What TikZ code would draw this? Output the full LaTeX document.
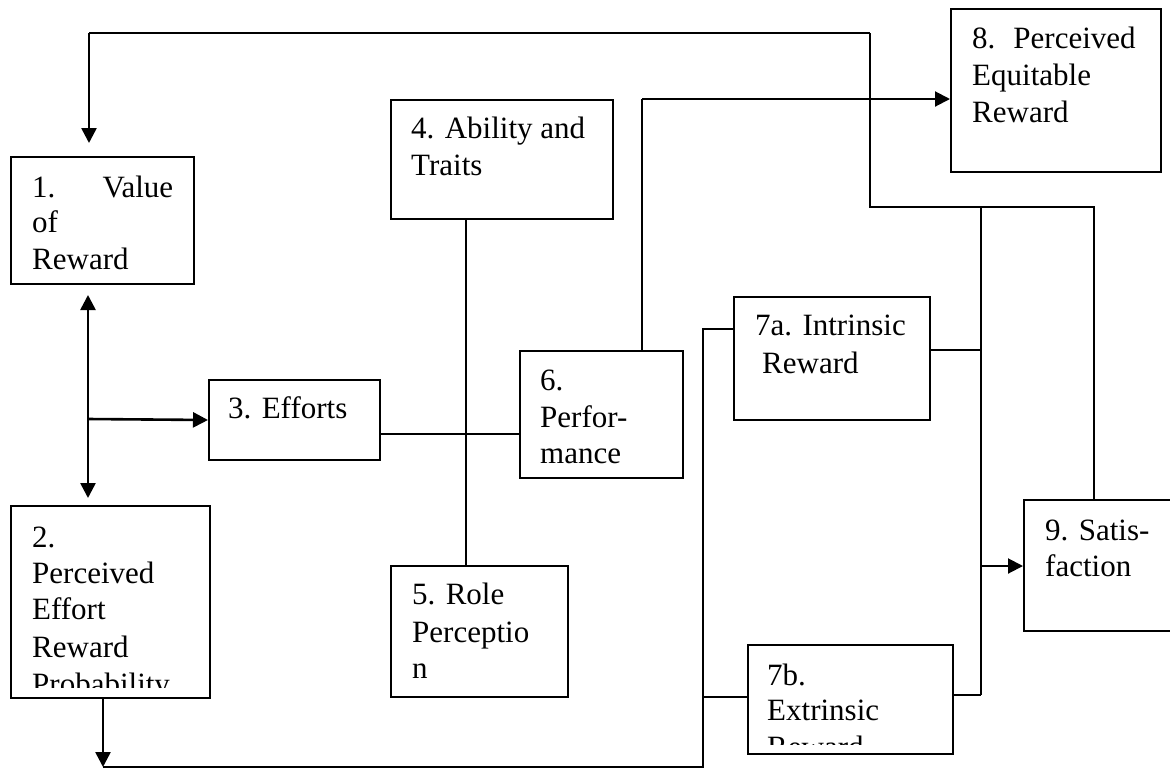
\documentclass[tikz,border=0pt]{standalone}
\usepackage{fontspec}
\setmainfont{Liberation Serif}
\usetikzlibrary{arrows.meta}
\begin{document}
\begin{tikzpicture}[x=1pt,y=-1pt,
  boxnode/.style={draw=black,line width=2pt,inner sep=0pt,anchor=north west,rectangle,fill=white},
  lbl/.style={anchor=base west,inner sep=0pt,font=\fontsize{31}{36.5}\selectfont},
  thinline/.style={line width=1.6pt},
  medline/.style={line width=2pt},
  arrowline/.style={line width=2.6pt},
  tip/.style={-{Triangle[length=15pt,width=15pt]}},
  dtip/.style={{Triangle[length=15pt,width=15pt]}-{Triangle[length=15pt,width=15pt]}}
]
\useasboundingbox (0,0) rectangle (1170,769);
\clip (0,0) rectangle (1170,769);
\fill[white] (0,0) rectangle (1170,769);

% boxes
\node[boxnode,minimum width=183pt,minimum height=127pt] (b1) at (10,156) {};
\node[boxnode,minimum width=199pt,minimum height=192pt] (b2) at (10,505) {};
\node[boxnode,minimum width=171pt,minimum height=80pt] (b3) at (208,379) {};
\node[boxnode,minimum width=222pt,minimum height=119pt] (b4) at (390,99) {};
\node[boxnode,minimum width=177pt,minimum height=131pt] (b5) at (390,565) {};
\node[boxnode,minimum width=163pt,minimum height=127pt] (b6) at (519,350) {};
\node[boxnode,minimum width=196pt,minimum height=123pt] (b7a) at (733,296) {};
\node[boxnode,minimum width=205pt,minimum height=109pt] (b7b) at (747,644) {};
\node[boxnode,minimum width=210pt,minimum height=163pt] (b8) at (950,8) {};
\node[boxnode,minimum width=160pt,minimum height=131pt] (b9) at (1023,499) {};

% texts
\node[lbl] (t1a) at (32,197) {\makebox[141pt][l]{1.\hfill Value}};
\node[lbl] (t1b) at (32,232) {of};
\node[lbl] (t1c) at (32,269) {Reward};
\node[lbl] (t2a) at (32,547) {2.};
\node[lbl] (t2b) at (32,583) {Perceived};
\node[lbl] (t2c) at (32,619) {Effort};
\node[lbl] (t2d) at (32,657) {Reward};
\begin{scope}
  \clip (10,505) rectangle (209,687);
  \node[lbl] (t2e) at (32,694) {Probability};
\end{scope}
\node[lbl] (t3a) at (228,418) {3. Efforts};
\node[lbl] (t4a) at (411,138) {4. Ability and};
\node[lbl] (t4b) at (411,175) {Traits};
\node[lbl] (t5a) at (412,604) {5. Role};
\node[lbl] (t5b) at (412,642) {Perceptio};
\node[lbl] (t5c) at (412,678) {n};
\node[lbl] (t6a) at (540,390) {6.};
\node[lbl] (t6b) at (540,427) {Perfor-};
\node[lbl] (t6c) at (540,463) {mance};
\node[lbl] (t7a) at (755,335) {7a. Intrinsic};
\node[lbl] (t7b) at (762,373) {Reward};
\node[lbl] (t7c) at (767,685) {7b.};
\node[lbl] (t7d) at (767,720) {Extrinsic};
\begin{scope}
  \clip (747,644) rectangle (952,744);
  \node[lbl] (t7e) at (767,757) {Reward};
\end{scope}
\node[lbl] (t8a) at (972,48) {8.\hspace{18pt}Perceived};
\node[lbl] (t8b) at (972,85) {Equitable};
\node[lbl] (t8c) at (972,122) {Reward};
\node[lbl] (t9a) at (1045,540) {9. Satis-};
\node[lbl] (t9b) at (1045,576) {faction};

% junction coordinates
\coordinate (j1) at (1094,207);
\coordinate (j2) at (870,207);
\coordinate (j3) at (870,33);
\coordinate (j4) at (89,33);
\coordinate (v1) at (88,419);
\coordinate (h1) at (0,434);
\coordinate (v2) at (466,0);
\coordinate (v3) at (642,99);
\coordinate (v4) at (103,767);
\coordinate (c1) at (703,767);
\coordinate (c2) at (703,329);
\coordinate (c3) at (703,697);
\coordinate (c4) at (981,350);
\coordinate (c5) at (981,695);
\coordinate (c6) at (981,566);

% connectors
\draw[thinline] (b9.north -| j1) -- (j1) -- (j2) -- (j3);
\draw[medline] (j3) -- (j4);
\draw[arrowline,tip,shorten >=13pt] (j4) -- (b1.north -| j4);

\draw[arrowline,dtip,shorten <=10pt,shorten >=7pt] (b1.south -| v1) -- (b2.north -| v1);
\draw[arrowline,tip] (v1) -- (b3.west);

\draw[thinline] (b3.east |- h1) -- (b6.west |- h1);
\draw[thinline] (b4.south -| v2) -- (b5.north -| v2);

\draw[thinline] (b6.north -| v3) -- (v3);
\draw[medline,tip] (v3) -- (b8.west |- v3);

\draw[arrowline,tip] (b2.south -| v4) -- (v4);
\draw[thinline] (v4) -- (c1) -- (c2) -- (b7a.west |- c2);
\draw[thinline] (c3) -- (b7b.west |- c3);

\draw[thinline] (b7a.east |- c4) -- (c4);
\draw[thinline] (j1 -| c4) -- (c5);
\draw[thinline] (b7b.east |- c5) -- (c5);
\draw[medline,tip] (c6) -- (b9.west |- c6);
\end{tikzpicture}
\end{document}
